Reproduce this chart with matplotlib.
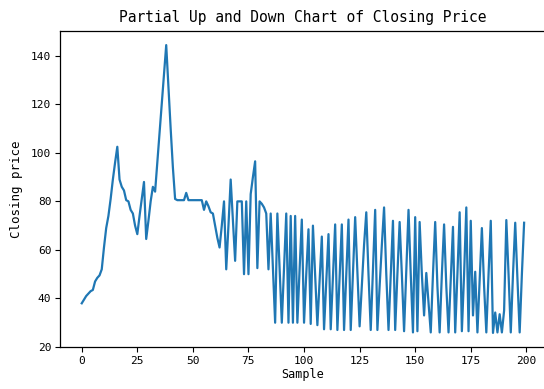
import numpy as np
import matplotlib
matplotlib.use("Agg")
import matplotlib.pyplot as plt

plt.rcParams['font.family'] = ['DejaVu Sans Mono']

# Closing price per sample
close = [
    38, 39.5, 41, 42, 43, 43.5, 47, 48.5, 49.5, 52,
    61, 69, 74, 81, 89, 96, 102.5, 89, 86, 84.5,
    80.5, 80, 76.5, 75, 70, 66.5, 74, 81, 88, 64.5,
    72, 80, 86, 84, 96, 108, 120, 132, 144.4, 127,
    110, 94, 81, 80.5, 80.5, 80.5, 80.5, 83.5, 80.5, 80.5,
    80.5, 80.5, 80.5, 80.5, 80.5, 76.5, 80, 78, 75.5, 75,
    70, 65, 61, 70, 80, 52, 70, 89, 72, 55.5,
    80, 80, 80, 50, 80, 50, 83, 90, 96.5, 52.5,
    80, 79, 77.5, 75, 52, 75, 52, 30, 75, 52,
    30, 52, 75, 30, 74, 30, 74, 30, 52, 72.5,
    30, 50, 68.5, 29.5, 70, 50, 29, 47, 65.5, 27.3,
    47, 66.5, 27.3, 49, 70.5, 27, 49, 70.5, 27, 50,
    72.5, 27, 50, 73.5, 50.8, 28.5, 45, 62, 75.5, 50,
    27, 52, 76.5, 27, 45, 62, 77.5, 50, 27, 50,
    72, 27, 50, 71.5, 50, 26.5, 52, 76.5, 50, 26,
    73.5, 26.5, 71.5, 50, 33, 50.5, 38, 26, 50, 71.5,
    45, 26, 50, 70.5, 45, 26, 48, 69.5, 26, 50,
    75.5, 26.5, 50, 77.5, 26.5, 72, 33, 51, 26, 48,
    69, 45, 26, 50, 72, 25.8, 34.2, 26, 33.5, 26,
    35, 72.3, 50, 26, 50, 71.2, 48, 26, 50, 71.2,
]
sample = np.arange(len(close))

title_text = "Partial Up and Down Chart of Closing Price"
x_label = "Sample"
y_label = "Closing price"

fig = plt.figure(figsize=(5.44, 3.89), dpi=100)
ax = fig.add_axes([0.1096, 0.1072, 0.8945, 0.8139])
ax.plot(sample, close, color="#1f77b4", linewidth=1.6)

ax.set_title(title_text, fontsize=10.5, pad=6)
ax.set_xlabel(x_label, fontsize=8.5, labelpad=2)
ax.set_ylabel(y_label, fontsize=9, labelpad=6)
ax.set_xticks([0, 25, 50, 75, 100, 125, 150, 175, 200])
ax.set_yticks([20, 40, 60, 80, 100, 120, 140])
ax.tick_params(labelsize=8, length=3.5, width=0.8, pad=2.5)
for s in ax.spines.values():
    s.set_linewidth(0.9)
# the frame runs past the right edge of the canvas
ax.spines['right'].set_visible(False)

fig.savefig("out.png", dpi=100)
